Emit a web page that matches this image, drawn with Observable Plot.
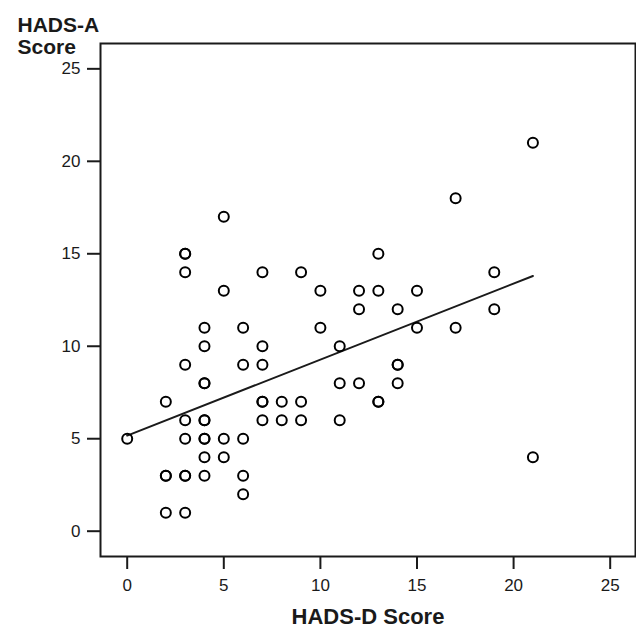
<!DOCTYPE html>
<html>
<head>
<meta charset="utf-8">
<script src="https://cdn.jsdelivr.net/npm/d3@7"></script>
<script src="https://cdn.jsdelivr.net/npm/@observablehq/plot@0.6"></script>
<style>
  html, body { margin: 0; padding: 0; background: #fff; }
  #chart { width: 636px; height: 627px; }
</style>
</head>
<body>
<div id="chart"></div>
<script>
// HADS-D (x) and HADS-A (y) scores per subject
const hadsD = [
  0,
  2, 2, 2, 2,
  3, 3, 3, 3, 3, 3, 3, 3, 3,
  4, 4, 4, 4, 4, 4, 4, 4, 4, 4,
  5, 5, 5, 5,
  6, 6, 6, 6, 6,
  7, 7, 7, 7, 7, 7,
  8, 8,
  9, 9, 9,
  10, 10,
  11, 11, 11,
  12, 12, 12,
  13, 13, 13, 13,
  14, 14, 14, 14,
  15, 15,
  17, 17,
  19, 19,
  21, 21
];
const hadsA = [
  5,
  7, 3, 3, 1,
  15, 15, 14, 9, 6, 5, 3, 3, 1,
  11, 10, 8, 8, 6, 6, 5, 5, 4, 3,
  17, 13, 5, 4,
  11, 9, 5, 3, 2,
  14, 10, 9, 7, 7, 6,
  7, 6,
  14, 7, 6,
  13, 11,
  10, 8, 6,
  13, 12, 8,
  15, 13, 7, 7,
  12, 9, 9, 8,
  13, 11,
  18, 11,
  14, 12,
  21, 4
];
// fitted regression line end points
const fitD = [0, 21];
const fitA = [5.17, 13.8];

const xTicks = [0, 5, 10, 15, 20, 25];
const yTicks = [0, 5, 10, 15, 20, 25];
const xTitle = "HADS-D Score";
const yTitleLines = ["HADS-A", "Score"];

const points = hadsD.map((d, i) => ({d, a: hadsA[i]}));
const fit = fitD.map((d, i) => ({d, a: fitA[i]}));

const ink = "#1a1a1a";

const chart = Plot.plot({
  width: 636,
  height: 627,
  marginLeft: 100,
  marginRight: 1,
  marginTop: 43,
  marginBottom: 71,
  style: {fontFamily: "'Liberation Sans', Arial, sans-serif", color: ink, background: "#fff", overflow: "visible"},
  x: {domain: [-1.382, 26.31]},
  y: {domain: [-1.368, 26.37]},
  marks: [
    Plot.axisX({ticks: xTicks, tickSize: 13, tickPadding: 9, fontSize: 17, strokeWidth: 2, stroke: ink, fill: ink, label: null, tickFormat: d => String(d)}),
    Plot.axisY({ticks: yTicks, tickSize: 13, tickPadding: 7, fontSize: 17, strokeWidth: 2, stroke: ink, fill: ink, label: null, tickFormat: d => String(d)}),
    Plot.line(fit, {x: "d", y: "a", stroke: ink, strokeWidth: 2}),
    Plot.dot(points, {x: "d", y: "a", r: 5, stroke: "#000", strokeWidth: 2, fill: "none"}),
    Plot.frame({stroke: ink, strokeWidth: 2}),
    Plot.text([xTitle], {frameAnchor: "bottom", dy: 67, lineAnchor: "bottom", text: d => d, fontSize: 22, fontWeight: "bold", fill: ink}),
    Plot.text([yTitleLines[0]], {frameAnchor: "top-left", dx: -83, dy: -12, lineAnchor: "bottom", textAnchor: "start", text: d => d, fontSize: 21, fontWeight: "bold", fill: ink}),
    Plot.text([yTitleLines[1]], {frameAnchor: "top-left", dx: -83, dy: 10, lineAnchor: "bottom", textAnchor: "start", text: d => d, fontSize: 21, fontWeight: "bold", fill: ink})
  ]
});
document.getElementById("chart").appendChild(chart);
</script>
</body>
</html>
